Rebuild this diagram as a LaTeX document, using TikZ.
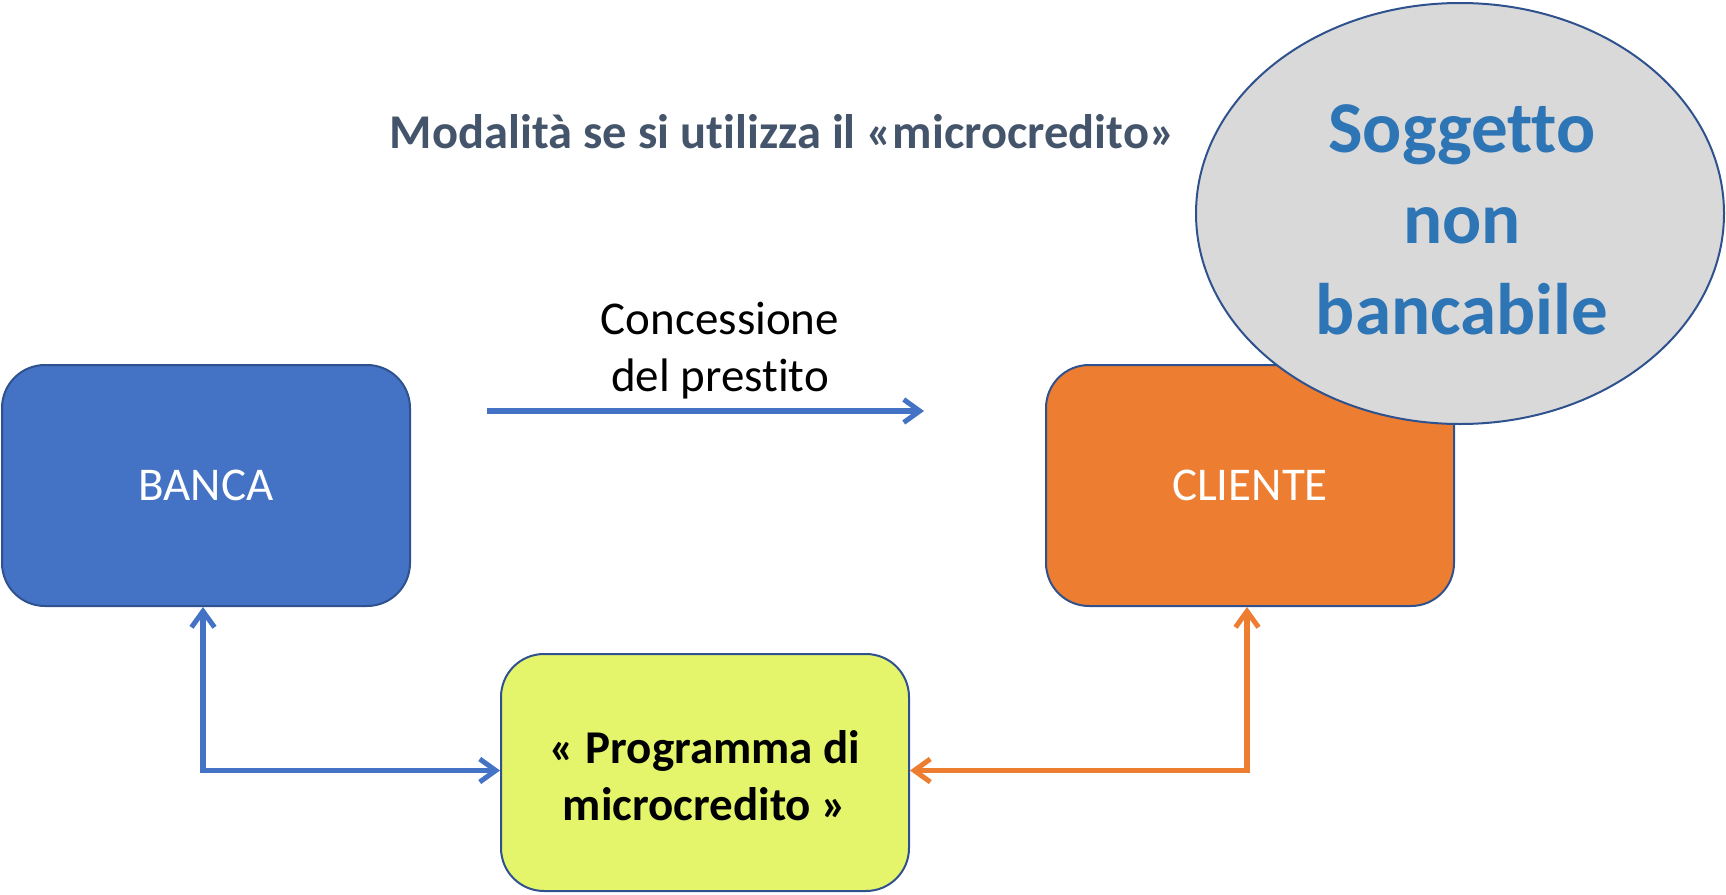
\documentclass[tikz,border=0pt]{standalone}
\usepackage{fontspec}
\setmainfont[Ligatures=NoCommon]{Carlito}
\usetikzlibrary{arrows.meta,shapes.geometric}
\definecolor{bancablue}{HTML}{4472C4}
\definecolor{clienteorange}{HTML}{ED7D31}
\definecolor{progyellow}{HTML}{E4F56C}
\definecolor{edgeblue}{HTML}{2F528F}
\definecolor{titlegray}{HTML}{44546A}
\definecolor{soggblue}{HTML}{2E75B6}
\definecolor{ellgray}{HTML}{D9D9D9}
\begin{document}
\begin{tikzpicture}[x=1pt,y=-1pt,
  box/.style={draw=edgeblue,line width=2pt,rounded corners=43pt,minimum width=408pt,minimum height=241pt,inner sep=0pt,align=center},
  bigtext/.style={font=\fontsize{47}{57}\selectfont},
  tip/.tip={Straight Barb[length=16pt,width=23pt,line width=5pt]},
  link/.style={line width=5.3pt,-tip},
  duplink/.style={line width=5.3pt,tip-tip}]
\useasboundingbox (0,0) rectangle (1726,894);
\node[box,fill=bancablue,text=white,bigtext] (banca) at (206,485.5) {BANCA};
\node[box,fill=clienteorange,text=white,bigtext] (cliente) at (1250,485.5) {CLIENTE};
\node[box,fill=progyellow,text=black,minimum height=237pt] (prog) at (705,772.5) {};
\node[align=center,text=black,font=\fontsize{47}{57}\selectfont\bfseries] (progtext) at (705,776) {« Programma di\\microcredito »};
\node[draw=edgeblue,line width=2pt,fill=ellgray,ellipse,minimum width=528pt,minimum height=421pt,inner sep=0pt] (sogg) at (1460,213.5) {};
\node[align=center,text=soggblue,font=\fontsize{73}{91}\selectfont\bfseries] (soggtext) at (1462,220) {Soggetto\\non\\bancabile};
\node[text=titlegray,font=\fontsize{48.5}{58}\selectfont\bfseries] (title) at (782.5,132) {Modalità se si utilizza il «microcredito»};
\node[align=center,bigtext] (conc) at (720,350.5) {Concessione\\del prestito};
\coordinate (a1) at (487,411);
\coordinate (a2) at (924,411);
\draw[link,bancablue] (a1) -- (a2);
\draw[duplink,bancablue] ([xshift=-3pt]banca.south) |- ([yshift=2pt]prog.west);
\draw[duplink,clienteorange] ([xshift=-3pt]cliente.south) |- ([yshift=2pt]prog.east);
\end{tikzpicture}
\end{document}
